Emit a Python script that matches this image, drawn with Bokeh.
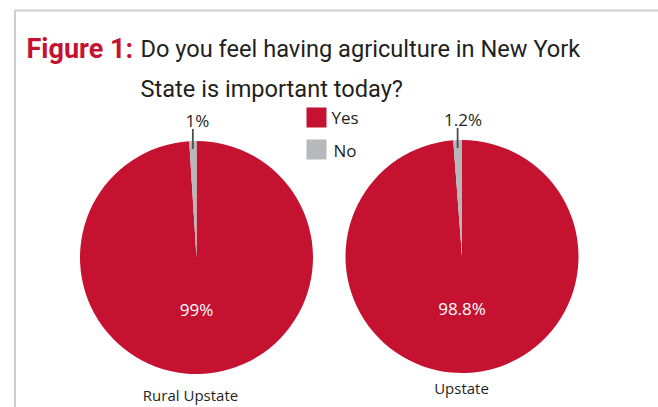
from bokeh.plotting import figure
from bokeh.models import Range1d, BoxAnnotation, ColumnDataSource
from bokeh.core.properties import value
from bokeh.embed import file_html
from bokeh.resources import INLINE
import math

# ---- data ----
groups = ["Rural Upstate", "Upstate"]
answers = ["Yes", "No"]
yes_pct = [99.0, 98.8]
no_pct = [1.0, 1.2]
yes_labels = ["99%", "98.8%"]
no_labels = ["1%", "1.2%"]
title_lead = "Figure 1:"
title_lines = ["Do you feel having agriculture in New York", "State is important today?"]

# ---- style ----
RED = "#C41230"
GREY = "#B7B8BC"
DARK = "#231F20"
W, H = 658, 407
TITLE_FONT = "Roboto"
BODY = "Open Sans"

p = figure(width=W, height=H, output_backend="svg", toolbar_location=None,
           x_range=Range1d(0, W), y_range=Range1d(0, H), min_border=0)
p.axis.visible = False
p.grid.visible = False
p.outline_line_color = None
p.background_fill_color = "white"
p.border_fill_color = "white"

# frame lines (top and left)
p.add_layout(BoxAnnotation(left=14.5, right=W + 20, top=H - 10, bottom=-20,
                           fill_alpha=0, line_color="#5a5a5a", line_width=2))

centers_x = [196, 461.5]
centers_y = [H - 257, H - 256]
radius = 116.5

for i, g in enumerate(groups):
    cx, cy = centers_x[i], centers_y[i]
    total = yes_pct[i] + no_pct[i]
    no_ang = no_pct[i] / total * 2 * math.pi
    start = math.pi / 2
    src = ColumnDataSource(dict(
        x=[cx, cx], y=[cy, cy],
        start=[start + no_ang, start],
        end=[start + 2 * math.pi, start + no_ang],
        color=[RED, GREY]))
    p.wedge(x="x", y="y", radius=radius, start_angle="start", end_angle="end",
            direction="anticlock", fill_color="color", line_color=None, source=src)
    # leader line
    mid = start + no_ang / 2
    lx = cx + radius * math.cos(mid)
    p.segment(x0=[lx], y0=[cy + radius - 8], x1=[lx], y1=[cy + radius + 12],
              line_color="#4d4d4d", line_width=1.8)
    p.text(x=[cx + 1], y=[cy + radius + 21], text=[no_labels[i]],
           text_font=value(BODY), text_font_size="17px", text_color=DARK,
           text_align="center", text_baseline="middle")
    p.text(x=[cx], y=[cy - 52], text=[yes_labels[i]],
           text_font=value(BODY), text_font_size="17px", text_color="white",
           text_align="center", text_baseline="middle")

# group labels
p.text(x=[190, 461], y=[H - 394, H - 387], text=groups,
       text_font=value(BODY), text_font_size="15px", text_color=DARK,
       text_align="center", text_baseline="middle")

# legend
leg_y = [H - 117, H - 149]
p.rect(x=[316, 316], y=leg_y, width=20, height=20, fill_color=[RED, GREY], line_color=None)
p.text(x=[331, 333], y=[H - 117, H - 150], text=answers,
       text_font=value(BODY), text_font_size="17px", text_color=DARK,
       text_align="left", text_baseline="middle")

# title
p.text(x=[26], y=[H - 48], text=[title_lead], text_font=value(TITLE_FONT),
       text_font_size="27px", text_font_style="bold", text_color=RED,
       text_baseline="alphabetic")
p.text(x=[140, 140], y=[H - 48, H - 88], text=title_lines, text_font=value(TITLE_FONT),
       text_font_size="23.6px", text_color=DARK, text_baseline="alphabetic")

open("out.html", "w").write(file_html(p, INLINE))
